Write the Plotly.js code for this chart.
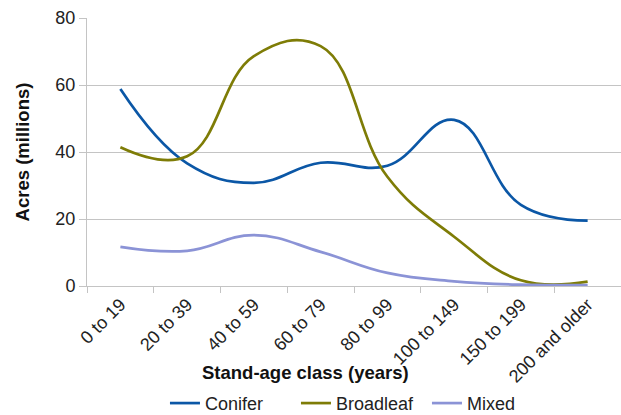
<!DOCTYPE html>
<html>
<head>
<meta charset="utf-8">
<script src="https://cdn.plot.ly/plotly-3.0.1.min.js"></script>
<style>html,body{margin:0;padding:0;background:#fff;}#chart{width:621px;height:415px;}</style>
</head>
<body>
<div id="chart"></div>
<script>
const categories = ["0 to 19", "20 to 39", "40 to 59", "60 to 79", "80 to 99", "100 to 149", "150 to 199", "200 and older"];
const conifer = [58.8, 36.6, 30.8, 36.8, 35.9, 49.6, 24.2, 19.5];
const broadleaf = [41.4, 38.7, 68.6, 71.6, 32.6, 14.7, 1.7, 1.3];
const mixed = [11.7, 10.5, 15.2, 10.2, 3.9, 1.4, 0.4, 0.3];
const yTicks = [0, 20, 40, 60, 80];

const font = "Liberation Sans, Arial, Helvetica, sans-serif";
const grid = "#c4c4c4";

function series(name, y, color) {
  return {
    type: "scatter", mode: "lines", name: name, x: categories, y: y,
    line: {color: color, width: 2.7, shape: "spline", smoothing: 1.2},
    hoverinfo: "skip"
  };
}

const data = [
  series("Conifer", conifer, "#0b57a6"),
  series("Broadleaf", broadleaf, "#7e7c06"),
  series("Mixed", mixed, "#8b93d6")
];

const layout = {
  width: 621, height: 415,
  margin: {l: 87, r: 0, t: 18, b: 129, autoexpand: false},
  paper_bgcolor: "#fff", plot_bgcolor: "#fff",
  font: {family: font, size: 18, color: "#222"},
  showlegend: true,
  legend: {
    orientation: "h", x: 0.146, xanchor: "left", y: -0.438, yanchor: "middle",
    entrywidth: 86, entrywidthmode: "pixels", borderwidth: 0,
    font: {family: font, size: 18, color: "#222"}, bgcolor: "rgba(0,0,0,0)"
  },
  xaxis: {
    type: "category", range: [-0.5, 7.5], tickson: "boundaries", automargin: false,
    ticks: "outside", ticklen: 6, tickcolor: grid, tickwidth: 1,
    showline: true, linecolor: grid, linewidth: 1, showgrid: false,
    tickangle: -45, tickfont: {family: font, size: 18, color: "#222"}
  },
  yaxis: {
    range: [0, 80], tickvals: yTicks, ticks: "outside", ticklen: 7, automargin: false,
    tickcolor: grid, showline: true, linecolor: grid, linewidth: 1,
    showgrid: true, gridcolor: grid, gridwidth: 1, zeroline: false,
    tickfont: {family: font, size: 18, color: "#222"},
    title: {text: "<b>Acres (millions)</b>", font: {family: font, size: 18.5, color: "#111"}, standoff: 20}
  },
  annotations: [{
    text: "<b>Stand-age class (years)</b>", xref: "paper", yref: "paper",
    x: 0.41, y: -0.322, xanchor: "center", yanchor: "middle", showarrow: false,
    font: {family: font, size: 18.5, color: "#111"}
  }]
};

Plotly.newPlot("chart", data, layout, {displayModeBar: false, staticPlot: true});
</script>
</body>
</html>
